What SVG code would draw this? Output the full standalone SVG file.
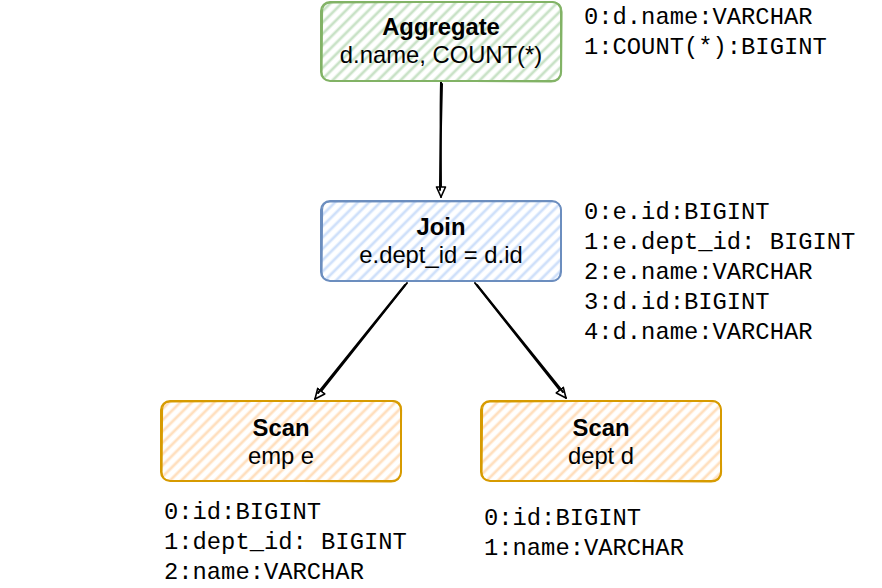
<svg xmlns="http://www.w3.org/2000/svg" width="882" height="588" viewBox="0 0 882 588">
<style>
.title{font-family:"Liberation Sans",Arial,sans-serif;font-size:23.8px;font-weight:bold;fill:#000;text-anchor:middle}
.sub{font-family:"Liberation Sans",Arial,sans-serif;font-size:23.8px;fill:#000;text-anchor:middle}
.mono{font-family:"Liberation Mono","Courier New",monospace;font-size:23.8px;fill:#000}
.edge{fill:none;stroke:#000;stroke-width:2;stroke-linecap:round}
</style>
<defs>
<pattern id="hg" width="8" height="8" patternUnits="userSpaceOnUse" patternTransform="rotate(45)"><line x1="4" y1="0" x2="4" y2="8" stroke="#c9e2c7" stroke-width="2.8"/></pattern>
<pattern id="hb" width="8" height="8" patternUnits="userSpaceOnUse" patternTransform="rotate(45)"><line x1="4" y1="0" x2="4" y2="8" stroke="#cfe0fa" stroke-width="2.8"/></pattern>
<pattern id="ho" width="8" height="8" patternUnits="userSpaceOnUse" patternTransform="rotate(45)"><line x1="4" y1="0" x2="4" y2="8" stroke="#ffdfbe" stroke-width="2.8"/></pattern>
<marker id="arr" viewBox="0 0 12 12" refX="11" refY="6" markerWidth="12" markerHeight="12" markerUnits="userSpaceOnUse" orient="auto">
<path d="M1,1.5 L11,6 L1,10.5 Z" fill="#fff" stroke="#000" stroke-width="1.6" stroke-linejoin="round"/>
</marker>
</defs>
<rect width="882" height="588" fill="#fff"/>

<g id="connectors">
<path class="edge" d="M441,82 C440,120 441,160 441,197" marker-end="url(#arr)"/>
<path class="edge" d="M442,84 C441,125 440,165 440,190" stroke-width="1"/>
<path class="edge" d="M407,283 L315,399" marker-end="url(#arr)"/>
<path class="edge" d="M405,285 L318,393" stroke-width="1"/>
<path class="edge" d="M475,283 L566,398" marker-end="url(#arr)"/>
<path class="edge" d="M477,285 L563,392" stroke-width="1"/>
</g>

<g id="aggregate">
<rect x="321" y="2" width="240" height="79" rx="9" fill="url(#hg)"/>
<rect x="321" y="2" width="240" height="79" rx="9" fill="none" stroke="#82b366" stroke-width="2"/>
<path d="M331,3 L552,1.5 Q562,2 562,12 L561.5,72 Q561,81.5 551,82 L330,80.5 Q321.5,80 322,71 L322.5,12 Q322,3 331,3" fill="none" stroke="#82b366" stroke-width="1.2"/>
<text class="title" x="441" y="35">Aggregate</text>
<text class="sub" x="441" y="63">d.name, COUNT(*)</text>
</g>

<g id="join">
<rect x="321" y="201" width="240" height="80" rx="9" fill="url(#hb)"/>
<rect x="321" y="201" width="240" height="80" rx="9" fill="none" stroke="#6c8ebf" stroke-width="2"/>
<path d="M330,202 L552,201.5 Q561.5,202 561,211 L560.5,272 Q560,281.5 551,281 L330,280.5 Q321.5,280 322,271 L322.5,211 Q322,202 330,202" fill="none" stroke="#6c8ebf" stroke-width="1.2"/>
<text class="title" x="441" y="235">Join</text>
<text class="sub" x="441" y="263">e.dept_id = d.id</text>
</g>

<g id="scan-emp">
<rect x="161" y="401" width="240" height="80" rx="9" fill="url(#ho)"/>
<rect x="161" y="401" width="240" height="80" rx="9" fill="none" stroke="#d79b00" stroke-width="2"/>
<path d="M170,402 L393,400.5 Q402,401 401.5,411 L401,472 Q400.5,481.5 391,482 L170,480.5 Q161.5,480 162,471 L162.5,411 Q162,402 170,402" fill="none" stroke="#d79b00" stroke-width="1.2"/>
<text class="title" x="281" y="436">Scan</text>
<text class="sub" x="281" y="464">emp e</text>
</g>

<g id="scan-dept">
<rect x="481" y="401" width="240" height="80" rx="9" fill="url(#ho)"/>
<rect x="481" y="401" width="240" height="80" rx="9" fill="none" stroke="#d79b00" stroke-width="2"/>
<path d="M490,402 L712,400.5 Q721.5,401 721,411 L721.5,472 Q721,481.5 711,482 L490,480.5 Q481.5,480 482,471 L482.5,411 Q482,402 490,402" fill="none" stroke="#d79b00" stroke-width="1.2"/>
<text class="title" x="601" y="436">Scan</text>
<text class="sub" x="601" y="464">dept d</text>
</g>

<g id="schema-aggregate">
<text class="mono" x="584" y="24">0:d.name:VARCHAR</text>
<text class="mono" x="584" y="54">1:COUNT(*):BIGINT</text>
</g>
<g id="schema-join">
<text class="mono" x="584" y="219">0:e.id:BIGINT</text>
<text class="mono" x="584" y="249">1:e.dept_id: BIGINT</text>
<text class="mono" x="584" y="279">2:e.name:VARCHAR</text>
<text class="mono" x="584" y="309">3:d.id:BIGINT</text>
<text class="mono" x="584" y="339">4:d.name:VARCHAR</text>
</g>
<g id="schema-scan-emp">
<text class="mono" x="164" y="519">0:id:BIGINT</text>
<text class="mono" x="164" y="549">1:dept_id: BIGINT</text>
<text class="mono" x="164" y="579">2:name:VARCHAR</text>
</g>
<g id="schema-scan-dept">
<text class="mono" x="484" y="525">0:id:BIGINT</text>
<text class="mono" x="484" y="555">1:name:VARCHAR</text>
</g>
</svg>
